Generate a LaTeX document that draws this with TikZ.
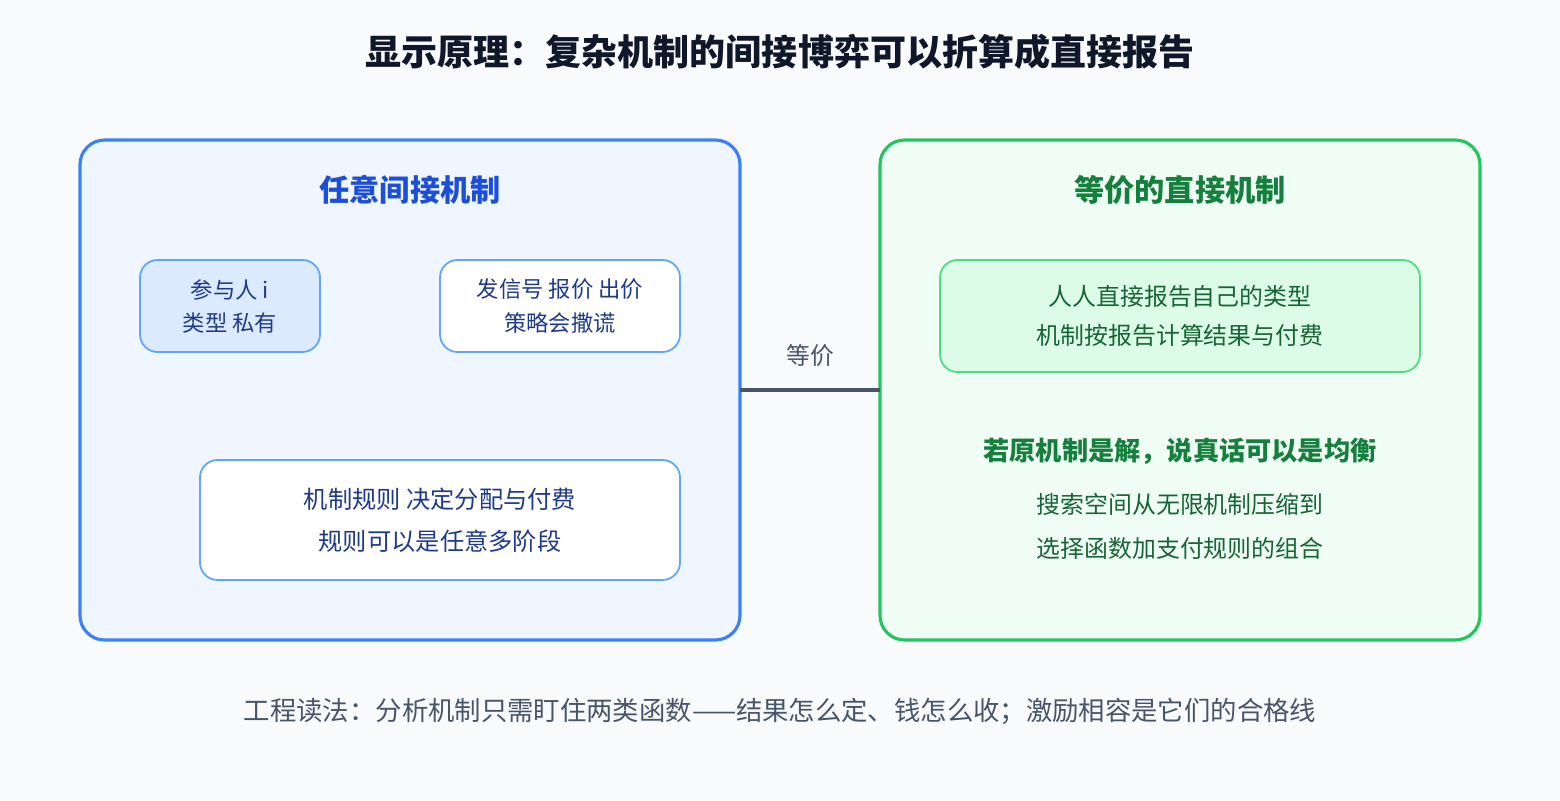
\documentclass[tikz,border=0pt]{standalone}
\usepackage{fontspec}
\setmainfont{Noto Sans CJK SC}
\definecolor{bg}{HTML}{F8FAFC}
\definecolor{bluefill}{HTML}{EFF6FF}
\definecolor{blueline}{HTML}{3B82F6}
\definecolor{bluetitle}{HTML}{1D4ED8}
\definecolor{bluesoft}{HTML}{DBEAFE}
\definecolor{blueedge}{HTML}{60A5FA}
\definecolor{bluetext}{HTML}{1E3A8A}
\definecolor{greenfill}{HTML}{F0FDF4}
\definecolor{greenline}{HTML}{22C55E}
\definecolor{greentitle}{HTML}{15803D}
\definecolor{greensoft}{HTML}{DCFCE7}
\definecolor{greenedge}{HTML}{4ADE80}
\definecolor{greentext}{HTML}{166534}
\definecolor{linkgray}{HTML}{475569}
\definecolor{titlegray}{HTML}{0F172A}
\tikzset{
  panel/.style={draw, line width=1.8pt, rounded corners=14pt},
  card/.style={draw, line width=1pt, rounded corners=10pt, align=center},
  boxtext/.style={font=\fontsize{12.7}{18.8}\selectfont},
}
\begin{document}
\begin{tikzpicture}[x=0.2mm,y=-0.2mm]
  \fill[bg] (0,0) rectangle (1560,800);
  \useasboundingbox (0,0) rectangle (1560,800);

  \node[text=titlegray, font=\fontsize{20.5}{24}\selectfont\bfseries] (title) at (780,52) {显示原理：复杂机制的间接博弈可以折算成直接报告};

  % left panel
  \draw[panel, draw=blueline, fill=bluefill] (80,140) rectangle (740,640);
  \node[text=bluetitle, font=\fontsize{17.2}{20}\selectfont\bfseries] (ltitle) at (410,190) {任意间接机制};
  \node[card, draw=blueedge, fill=bluesoft, text=bluetext, boxtext, minimum width=36mm, minimum height=18.4mm] (player) at (230,306) {参与人 i\\类型 私有};
  \node[card, draw=blueedge, fill=white, text=bluetext, boxtext, minimum width=48mm, minimum height=18.4mm] (signal) at (560,306) {发信号 报价 出价\\策略会撒谎};
  \node[card, draw=blueedge, fill=white, text=bluetext, font=\fontsize{13.8}{24}\selectfont, minimum width=96mm, minimum height=24mm] (rules) at (440,520) {机制规则 决定分配与付费\\规则可以是任意多阶段};

  % right panel
  \draw[panel, draw=greenline, fill=greenfill] (880,140) rectangle (1480,640);
  \node[text=greentitle, font=\fontsize{17.2}{20}\selectfont\bfseries] (rtitle) at (1180,190) {等价的直接机制};
  \node[card, draw=greenedge, fill=greensoft, text=greentext, font=\fontsize{13.6}{22.7}\selectfont, minimum width=96mm, minimum height=22.4mm] (direct) at (1180,316) {人人直接报告自己的类型\\机制按报告计算结果与付费};
  \node[text=greentitle, font=\fontsize{14.9}{18}\selectfont\bfseries] (truth) at (1180,451) {若原机制是解，说真话可以是均衡};
  \node[text=greentext, align=center, font=\fontsize{13.6}{25}\selectfont] (space) at (1180,526) {搜索空间从无限机制压缩到\\选择函数加支付规则的组合};

  % link
  \coordinate (la) at (740,390);
  \coordinate (ra) at (880,390);
  \draw[linkgray, line width=2.6pt] (la) -- (ra) node[midway, above=3mm, text=linkgray, font=\fontsize{13.5}{16}\selectfont] (eq) {等价};

  \node[text=linkgray, font=\fontsize{15}{18}\selectfont] (note) at (780,711) {工程读法：分析机制只需盯住两类函数——结果怎么定、钱怎么收；激励相容是它们的合格线};
\end{tikzpicture}
\end{document}
